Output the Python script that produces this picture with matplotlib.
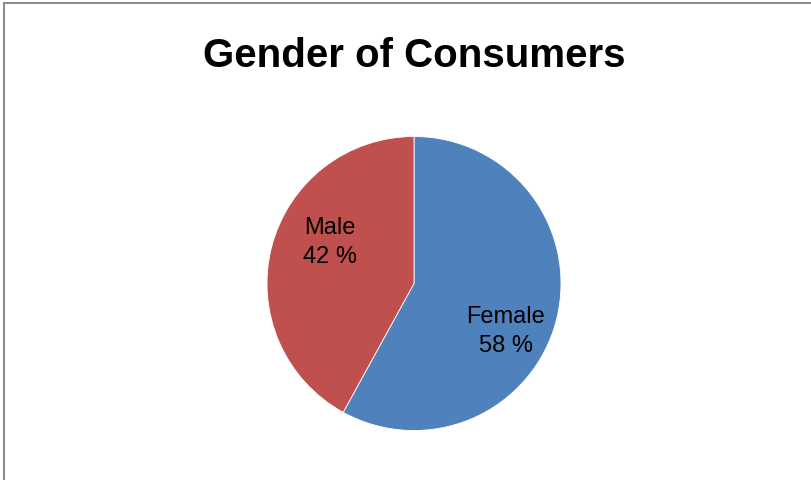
import matplotlib
matplotlib.use("Agg")
import matplotlib.pyplot as plt
from matplotlib.patches import Rectangle

categories = ["Female", "Male"]
shares = [58, 42]
colors = ["#4F81BD", "#C0504D"]

# label offsets from pie centre, in pixels (layout only)
label_offsets = [(92, 47), (-84, -42)]

fam = ["Liberation Sans Narrow", "Liberation Sans", "DejaVu Sans"]

fig = plt.figure(figsize=(8.11, 4.81), dpi=100)
fig.patch.set_facecolor("white")

# outer chart frame (only top/left visible in the crop)
fig.patches.append(Rectangle((4, -20), 900, 497, transform=None,
                             fill=False, edgecolor="#8c8c8c", linewidth=1.5))

ax = fig.add_axes([0, 0, 1, 1])
cx, cy, r = 414, 284.5, 147
# y axis is inverted below, so startangle=-90 points up and the slices run clockwise
wedges, _ = ax.pie(shares, colors=colors, startangle=-90, counterclock=True,
                   center=(cx, cy), radius=r, frame=True,
                   wedgeprops=dict(edgecolor="white", linewidth=0.6))
ax.set_xlim(0, 811)
ax.set_ylim(481, 0)
ax.set_aspect("equal")
ax.axis("off")

for name, val, (dx, dy) in zip(categories, shares, label_offsets):
    ax.text(cx + dx, cy + dy, f"{name}\n{val} %", ha="center", va="center",
            fontsize=17, family=fam, linespacing=1.4, color="black")

fig.text(414 / 811, 1 - 56 / 481, "Gender of Consumers", ha="center", va="center",
         fontsize=29, fontweight="bold", family=fam)

fig.savefig("out.png", dpi=100)
